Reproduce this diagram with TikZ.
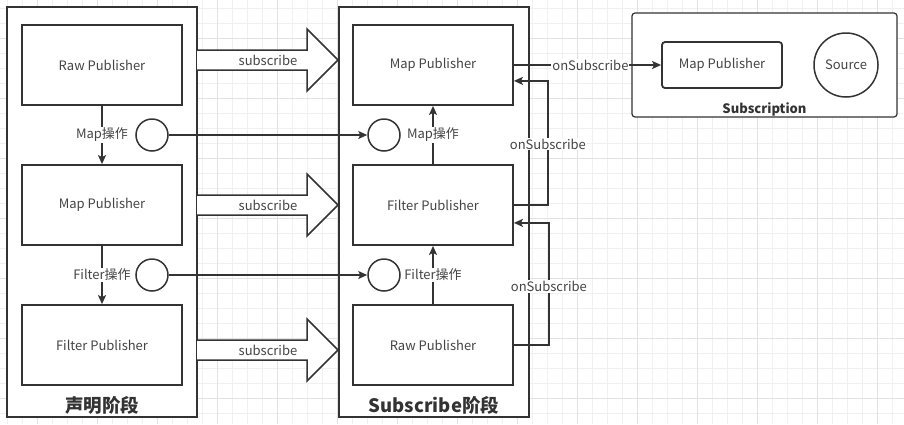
\documentclass[tikz,border=0pt]{standalone}
\usepackage{fontspec}
\setmainfont{Noto Sans CJK SC}
\usetikzlibrary{calc}
\usetikzlibrary{positioning}
\usetikzlibrary{arrows.meta}
\definecolor{lineGray}{HTML}{333333}
\definecolor{textGray}{HTML}{444444}
\definecolor{gridMinor}{HTML}{F0F0F0}
\definecolor{gridMajor}{HTML}{E2E2E2}
\tikzset{
  frameBox/.style={%
    draw=lineGray, line width=1.8pt, fill=white,
    minimum width=190pt, minimum height=410pt, inner sep=0pt,
  },
  pubBox/.style={%
    draw=lineGray, line width=1.8pt, fill=white,
    minimum width=160pt, minimum height=80pt, inner sep=0pt,
    text=textGray, font=\fontsize{13}{15}\selectfont,
  },
  opCircle/.style={%
    circle, draw=lineGray, line width=1.5pt, fill=white,
    minimum size=32pt, inner sep=0pt,
  },
  lbl/.style={%
    fill=white, inner sep=1pt, text=textGray,
    font=\fontsize{13}{15}\selectfont,
  },
  title/.style={%
    inner sep=0pt, text=lineGray, font=\fontsize{18.5}{20}\selectfont\bfseries,
  },
  link/.style={%
    draw=lineGray, line width=1.5pt,
    -{Stealth[length=9pt,width=8pt,inset=2pt]},
  },
  bigArrow/.style={%
    draw=lineGray, line width=1.5pt, fill=white, line join=miter,
  },
}

\begin{document}
\begin{tikzpicture}[x=1pt,y=-1pt]
  \useasboundingbox (0,0) rectangle (904,424);
  % background grid
  \foreach \gx in {7.3,22.3,...,904}
    \draw[gridMinor, line width=0.8pt] (\gx,0) -- (\gx,424);
  \foreach \gy in {8.3,23.3,...,424}
    \draw[gridMinor, line width=0.8pt] (0,\gy) -- (904,\gy);
  \foreach \gx in {37.3,97.3,...,904}
    \draw[gridMajor, line width=0.8pt] (\gx,0) -- (\gx,424);
  \foreach \gy in {38.3,98.3,...,424}
    \draw[gridMajor, line width=0.8pt] (0,\gy) -- (904,\gy);

  % frames
  \node[frameBox] (declFrame) at (102,212) {};
  \node[frameBox] (subFrame) at (434,212) {};
  \node[title, anchor=base] (declTitle) at (102,412) {声明阶段};
  \node[title, anchor=base] (subTitle) at (434,412) {Subscribe阶段};

  % declaration side
  \node[pubBox] (declRaw) at (102,65) {Raw Publisher};
  \node[pubBox] (declMap) at (102,205) {Map Publisher};
  \node[pubBox] (declFilter) at (102,345) {Filter Publisher};
  \node[opCircle] (declMapOp) at (152,135) {};
  \node[opCircle] (declFilterOp) at (152,275) {};

  % subscribe side
  \node[pubBox] (subMap) at (433,65) {Map Publisher};
  \node[pubBox] (subFilter) at (433,205) {Filter Publisher};
  \node[pubBox] (subRaw) at (433,345) {Raw Publisher};
  \node[opCircle] (subMapOp) at (384,135) {};
  \node[opCircle] (subFilterOp) at (384,275) {};

  % subscription
  \node[draw=lineGray, line width=1.2pt, rounded corners=3pt, fill=white,
        minimum width=265pt, minimum height=104pt, inner sep=0pt]
        (subscription) at (764.5,65) {};
  \node[pubBox, rounded corners=3pt, minimum width=120pt, minimum height=46pt]
        (srcMap) at (722,65) {Map Publisher};
  \node[circle, draw=lineGray, line width=1.5pt, minimum size=64pt, inner sep=0pt,
        text=textGray, font=\fontsize{13}{15}\selectfont] (source) at (846,65) {Source};
  \node[inner sep=0pt, text=lineGray, font=\fontsize{13}{15}\selectfont\bfseries,
        anchor=base] (subTitleSmall) at (764.5,113) {Subscription};

  % subscribe block arrows
  \foreach \y in {60,205,350} {
    \draw[bigArrow] (197,\y-10) -- (307,\y-10) -- (307,\y-31) -- (338,\y)
      -- (307,\y+31) -- (307,\y+10) -- (197,\y+10);
    \node[lbl, fill=none] at (268,\y) {subscribe};
  }

  % operators
  \draw[link] (declRaw) -- node[lbl] {Map操作} (declMap);
  \draw[link] (declMap) -- node[lbl] {Filter操作} (declFilter);
  \draw[link] (subFilter) -- node[lbl] {Map操作} (subMap);
  \draw[link] (subRaw) -- node[lbl] {Filter操作} (subFilter);
  \draw[link] (declMapOp) -- (subMapOp);
  \draw[link] (declFilterOp) -- (subFilterOp);

  % onSubscribe
  \draw[link] (subFilter.east) -- ++(34,0) |- node[lbl, pos=0.245] {onSubscribe}
    ($(subMap.south east)+(0,-25)$);
  \draw[link] (subRaw.east) -- ++(35,0) |- node[lbl, pos=0.24] {onSubscribe}
    ($(subFilter.south east)+(0,-23)$);
  \draw[link] (subMap.east) -- node[lbl, pos=0.52] {onSubscribe} (srcMap.west);
\end{tikzpicture}
\end{document}
